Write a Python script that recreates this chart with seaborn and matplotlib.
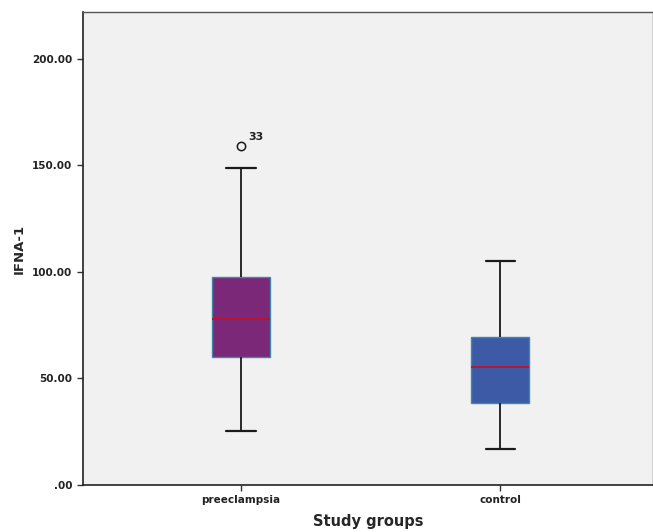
import matplotlib
matplotlib.use("Agg")
import matplotlib.pyplot as plt
import seaborn as sns
import pandas as pd

# Values
groups = ["preeclampsia", "control"]
whisker_low = [25.5, 16.8]
q1 = [60.1, 38.5]
median = [78.1, 55.4]
q3 = [97.8, 69.3]
whisker_high = [148.7, 105.2]
outliers = [[159.3], []]
outlier_labels = [["33"], []]
y_ticks = [0, 50, 100, 150, 200]
y_tick_labels = [".00", "50.00", "100.00", "150.00", "200.00"]
box_colors = ["#7b2878", "#3c5aa6"]

# Build sample values whose quartiles reproduce the summary above
rows = []
for g, lo, a, m, b, hi, outs in zip(groups, whisker_low, q1, median, q3, whisker_high, outliers):
    vals = [lo, a, a, m, m, b, b, hi] + outs
    rows += [(g, v) for v in vals]
df = pd.DataFrame(rows, columns=["group", "value"])

sns.set_style("white")
plt.rcParams["font.family"] = ["DejaVu Sans"]

fig = plt.figure(figsize=(6.53, 5.32), dpi=100)
ax = fig.add_axes([0.127, 0.0883, 0.873, 0.8891])
ax.set_facecolor("#f1f1f1")

sns.boxplot(data=df, x="group", y="value", order=groups, hue="group",
            palette=box_colors, legend=False, width=0.224, whis=1.5,
            saturation=1, linewidth=1.2, ax=ax,
            boxprops=dict(edgecolor="#3c8aa8", linewidth=1.0),
            whiskerprops=dict(color="#1a1a1a", linewidth=1.3),
            capprops=dict(color="#1a1a1a", linewidth=1.6),
            medianprops=dict(color="#c01228", linewidth=1.3),
            flierprops=dict(marker="o", markersize=6, markerfacecolor="none",
                            markeredgecolor="#1a1a1a", markeredgewidth=1.1))

for i, (outs, labs) in enumerate(zip(outliers, outlier_labels)):
    for v, lab in zip(outs, labs):
        ax.annotate(lab, (i, v), xytext=(5, 4), textcoords="offset points",
                    fontsize=8, fontweight="bold", color="#222222")

ax.set_xlim(-0.61, 1.59)
ax.set_ylim(0, 222)
ax.set_yticks(y_ticks)
ax.set_yticklabels(y_tick_labels)
ax.tick_params(axis="both", direction="out", length=4, width=1, color="#333333",
               labelsize=7.5, labelcolor="#222222", left=True, bottom=True)
for lab in ax.get_xticklabels() + ax.get_yticklabels():
    lab.set_fontweight("bold")

for s in ["left", "bottom"]:
    ax.spines[s].set_color("#222222")
    ax.spines[s].set_linewidth(1.2)
for s in ["top", "right"]:
    ax.spines[s].set_color("#555555")
    ax.spines[s].set_linewidth(1.0)

ax.set_xlabel("Study groups", fontsize=10.5, fontweight="bold", labelpad=6)
ax.set_ylabel("IFNA-1", fontsize=9.5, fontweight="bold", labelpad=5)

fig.savefig("out.png", dpi=100, facecolor="white")
